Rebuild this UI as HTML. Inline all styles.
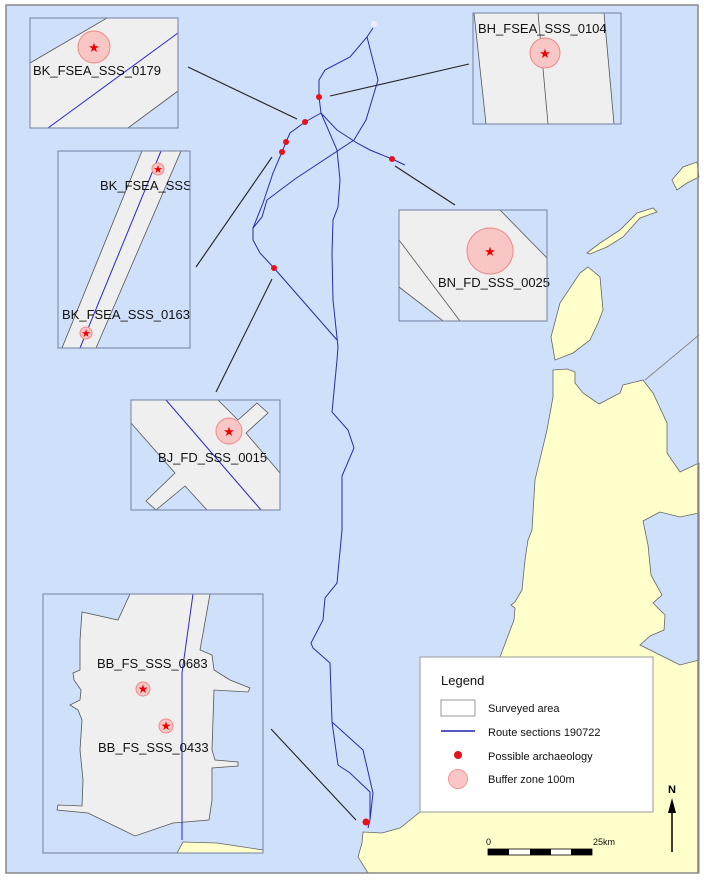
<!DOCTYPE html>
<html><head><meta charset="utf-8"><style>
html,body{margin:0;padding:0;background:#fff;}
svg{display:block;font-family:"Liberation Sans",Arial,sans-serif;}
</style></head><body>
<svg width="704" height="881" viewBox="0 0 704 881" xmlns="http://www.w3.org/2000/svg">
<rect x="0" y="0" width="704" height="881" fill="#fff"/>
<rect x="6" y="5" width="692" height="868" fill="#cfe0fb"/>
<g fill="#ffffcc" stroke="#666" stroke-width="0.8">
<path d="M553,370 L567,369 L575,372 L575,383 L583,393 L599,404 L620,393 L623,385 L643,380 L653,393 L667,423 L667,453 L680,472 L699,463 L699,873 L368,873 L358,857 L362,843 L363,832 L382,833 L400,828 L420,812 L500,657 L514,620 L515,608 L511,605 L515,602 L522,590 L525,560 L528,540 L532,530 L535,480 L547,430 L553,397 Z"/>
<path d="M588,267 L600,277 L603,310 L598,323 L590,340 L573,353 L555,360 L551,337 L560,303 L580,273 Z"/>
<path d="M587,253 L600,243 L620,230 L637,213 L653,208 L657,212 L640,218 L623,237 L607,247 L590,254 Z"/>
<path d="M672,180 L683,167 L697,162 L699,177 L687,183 L677,190 Z"/>
</g>
<path d="M699,513 L680,517 L660,512 L643,521 L648,545 L651,575 L662,595 L653,603 L665,615 L664,630 L650,636 L640,645 L660,655 L680,665 L699,660 Z" fill="#cfe0fb" stroke="#666" stroke-width="0.8"/>
<line x1="699" y1="335" x2="645" y2="380" stroke="#888" stroke-width="1"/>
<!-- connectors -->
<g stroke="#222" stroke-width="1.1">
<line x1="188" y1="67" x2="297" y2="119"/>
<line x1="330" y1="96" x2="469" y2="64"/>
<line x1="395" y1="166" x2="455" y2="205"/>
<line x1="272" y1="157" x2="196" y2="267"/>
<line x1="272" y1="279" x2="216" y2="392"/>
<line x1="271" y1="729" x2="356" y2="820"/>
</g>
<!-- routes -->
<g fill="none" stroke="#2a2aaa" stroke-width="1">
<polyline points="373,28 367,37 350,57 325,70 319,80 319,97 321,113"/>
<polyline points="367,37 378,80 366,120 354,140 295,179 267,200 262,217 253,228"/>
<polyline points="321,113 337,150 340,180 338,207 333,220 332,253 333,300 338,347 337,360 332,412 348,430 354,448 342,476 342,530 337,583 325,598 323,620 311,643 313,648 330,663 332,722 338,765 350,773 370,792 370,820 368,828"/>
<polyline points="332,722 363,750 373,793 370,820"/>
<polyline points="321,113 305,122 290,133 286,142 282,152 273,173 263,203 253,228 253,240 260,253 274,268 337,340"/>
<polyline points="321,113 337,130 357,143 370,150 392,159 405,165"/>
</g>
<circle cx="374" cy="24" r="3" fill="#eef"/>
<g fill="#e8101a">
<circle cx="319" cy="97" r="3"/><circle cx="305" cy="122" r="3"/><circle cx="286" cy="142" r="3"/>
<circle cx="282" cy="152" r="3"/><circle cx="392" cy="159" r="3"/><circle cx="274" cy="268" r="3"/>
<circle cx="366" cy="822" r="3.5"/>
</g>
<!-- inset 1 -->
<g>
<rect x="30" y="18" width="148" height="110" fill="#cfe0fb" stroke="#7080a0"/>
<polygon points="30,63 107,18 178,18 178,91 128,128 30,128" fill="#efefef" stroke="#555" stroke-width="0.8"/>
<line x1="48" y1="128" x2="178" y2="33" stroke="#2a2acc"/>
<circle cx="94" cy="47" r="16" fill="#f9c6c6" stroke="#e88"/>
<text x="94" y="52" font-size="13" fill="#e00" text-anchor="middle">★</text>
<text x="33" y="75" font-size="13" fill="#111">BK_FSEA_SSS_0179</text>
<rect x="30" y="18" width="148" height="110" fill="none" stroke="#7080a0"/>
</g>
<!-- inset 2 -->
<g>
<rect x="58" y="151" width="132" height="197" fill="#cfe0fb"/>
<polygon points="142,151 181,151 96,348 62,348" fill="#efefef" stroke="#555" stroke-width="0.8"/>
<line x1="161" y1="151" x2="80" y2="348" stroke="#2a2acc"/>
<circle cx="158" cy="169" r="6" fill="#f9c6c6" stroke="#e88"/>
<text x="158" y="173" font-size="11" fill="#e00" text-anchor="middle">★</text>
<circle cx="86" cy="333" r="6" fill="#f9c6c6" stroke="#e88"/>
<text x="86" y="337" font-size="11" fill="#e00" text-anchor="middle">★</text>
<svg x="58" y="151" width="132" height="197"><text x="42" y="39" font-size="13" fill="#111">BK_FSEA_SSS_0171</text></svg>
<text x="62" y="319" font-size="13" fill="#111">BK_FSEA_SSS_0163</text>
<rect x="58" y="151" width="132" height="197" fill="none" stroke="#7080a0"/>
</g>
<!-- inset 3 -->
<g>
<rect x="473" y="13" width="148" height="111" fill="#cfe0fb"/>
<polygon points="474,13 604,13 614,124 486,124" fill="#efefef" stroke="#555" stroke-width="0.8"/>
<line x1="538" y1="13" x2="548" y2="124" stroke="#555" stroke-width="0.8"/>
<circle cx="545" cy="53" r="15" fill="#f9c6c6" stroke="#e88"/>
<text x="545" y="58" font-size="13" fill="#e00" text-anchor="middle">★</text>
<text x="478" y="33" font-size="13" fill="#111">BH_FSEA_SSS_0104</text>
<rect x="473" y="13" width="148" height="111" fill="none" stroke="#7080a0"/>
</g>
<!-- inset 4 -->
<g>
<rect x="399" y="210" width="148" height="111" fill="#cfe0fb"/>
<polygon points="399,210 500,210 547,258 547,321 443,321 399,287" fill="#efefef" stroke="#555" stroke-width="0.8"/>
<line x1="399" y1="240" x2="460" y2="321" stroke="#555" stroke-width="0.8"/>
<circle cx="490" cy="251" r="23" fill="#f9c6c6" stroke="#e88"/>
<text x="490" y="256" font-size="13" fill="#e00" text-anchor="middle">★</text>
<text x="438" y="287" font-size="13" fill="#111">BN_FD_SSS_0025</text>
<rect x="399" y="210" width="148" height="111" fill="none" stroke="#7080a0"/>
</g>
<!-- inset 5 -->
<g>
<rect x="131" y="400" width="149" height="110" fill="#cfe0fb"/>
<polygon points="131,400 218,400 238,420 257,403 268,413 246,433 280,473 280,510 207,510 185,486 156,510 146,501 175,473 131,423" fill="#efefef" stroke="#555" stroke-width="0.8"/>
<line x1="166" y1="400" x2="261" y2="510" stroke="#2a2acc"/>
<circle cx="229" cy="431" r="13" fill="#f9c6c6" stroke="#e88"/>
<text x="229" y="436" font-size="13" fill="#e00" text-anchor="middle">★</text>
<text x="158" y="462" font-size="13" fill="#111">BJ_FD_SSS_0015</text>
<rect x="131" y="400" width="149" height="110" fill="none" stroke="#7080a0"/>
</g>
<!-- inset 6 -->
<g>
<rect x="43" y="594" width="220" height="259" fill="#cfe0fb"/>
<path d="M177,853 L183,842 L217,843 L263,850 L263,853 Z" fill="#ffffcc" stroke="#666" stroke-width="0.8"/>
<polygon points="130,594 210,594 200,650 212,655 214,670 230,680 250,688 248,692 214,690 213,720 212,750 215,760 238,762 238,766 212,768 212,800 209,820 173,823 135,836 88,813 57,810 58,805 82,806 83,780 80,750 82,720 78,710 70,705 80,700 81,690 74,680 73,673 80,670 80,640 82,612 118,620" fill="#efefef" stroke="#555" stroke-width="0.8"/>
<polyline points="193,594 182,673 182,840" fill="none" stroke="#2a2acc"/>
<circle cx="143" cy="689" r="7" fill="#f9c6c6" stroke="#e88"/>
<text x="143" y="693" font-size="12" fill="#e00" text-anchor="middle">★</text>
<circle cx="166" cy="726" r="7" fill="#f9c6c6" stroke="#e88"/>
<text x="166" y="730" font-size="12" fill="#e00" text-anchor="middle">★</text>
<text x="97" y="668" font-size="13" fill="#111">BB_FS_SSS_0683</text>
<text x="98" y="752" font-size="13" fill="#111">BB_FS_SSS_0433</text>
<rect x="43" y="594" width="220" height="259" fill="none" stroke="#7080a0"/>
</g>
<!-- legend -->
<rect x="420" y="657" width="233" height="155" fill="#fff" stroke="#999"/>
<text x="441" y="685" font-size="13" fill="#111">Legend</text>
<rect x="441" y="700" width="34" height="16" fill="#fff" stroke="#999"/>
<line x1="441" y1="731" x2="475" y2="731" stroke="#2222aa" stroke-width="1.5"/>
<circle cx="458" cy="755" r="4" fill="#e8101a"/>
<circle cx="458" cy="779" r="9.5" fill="#fac6c6" stroke="#e99"/>
<g font-size="11" fill="#111">
<text x="488" y="712">Surveyed area</text>
<text x="488" y="736">Route sections 190722</text>
<text x="488" y="760">Possible archaeology</text>
<text x="488" y="783">Buffer zone 100m</text>
</g>
<text x="486" y="845" font-size="9" fill="#111">0</text>
<text x="593" y="845" font-size="9" fill="#111">25km</text>
<rect x="488" y="849" width="104" height="6" fill="#fff" stroke="#000" stroke-width="0.8"/>
<rect x="488" y="849" width="21" height="6" fill="#000"/>
<rect x="530" y="849" width="21" height="6" fill="#000"/>
<rect x="571" y="849" width="21" height="6" fill="#000"/>
<text x="672" y="793" font-size="11" font-weight="bold" fill="#000" text-anchor="middle">N</text>
<line x1="672" y1="852" x2="672" y2="806" stroke="#000" stroke-width="1.5"/>
<polygon points="672,798 668,813 676,813" fill="#000"/>
<rect x="6" y="5" width="692" height="868" fill="none" stroke="#888" stroke-width="1.5"/>
</svg>
</body></html>
